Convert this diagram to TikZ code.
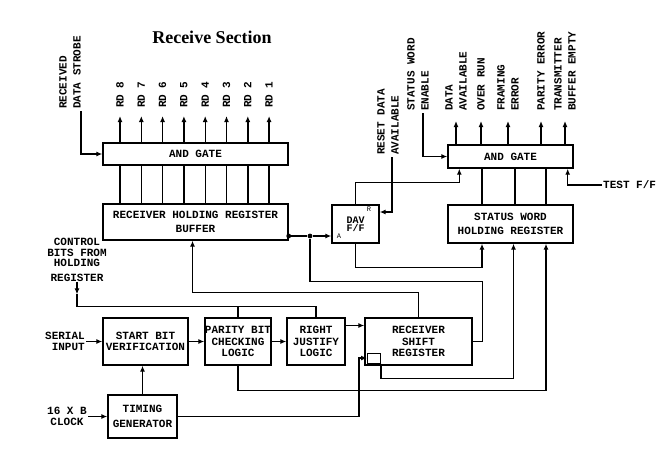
\documentclass[tikz,border=0pt]{standalone}
\usepackage{fontspec}
\setmainfont{Liberation Serif}
\setmonofont{Liberation Mono}
\usetikzlibrary{arrows.meta}

\begin{document}
\begin{tikzpicture}[x=1pt, y=-1pt,
    blk/.style={draw, line width=1.4pt, inner sep=0pt, align=center,
      font=\ttfamily\bfseries\fontsize{11}{11.5}\selectfont},
    vlbl/.style={rotate=90, anchor=west, align=left, inner sep=2pt,
      font=\ttfamily\bfseries\fontsize{11}{14}\selectfont},
    lbl/.style={align=center, inner sep=1pt,
      font=\ttfamily\bfseries\fontsize{11}{10.5}\selectfont},
    pin/.style={inner sep=0pt, font=\ttfamily\fontsize{7}{7}\selectfont},
    wire/.style={line width=1.4pt},
    sig/.style={wire, -{Latex[length=6pt,width=5pt]}},
    dot/.style={circle, fill, inner sep=1.7pt}]
  \useasboundingbox (0,0) rectangle (659,451);

  % Title
  \node[font=\rmfamily\bfseries\fontsize{18}{18}\selectfont] (title) at (212,37) {Receive Section};

  % Upper blocks
  \node[blk, minimum width=185pt, minimum height=22pt] (andL) at (195.5,154) {AND GATE};
  \node[blk, minimum width=185pt, minimum height=36pt] (rhrb) at (195.5,222)
    {RECEIVER HOLDING REGISTER\\[2pt]BUFFER};
  \node[blk, minimum width=47pt, minimum height=38pt,
    font=\ttfamily\bfseries\fontsize{10}{8.5}\selectfont] (dav) at (355.5,224) {DAV\\F/F};
  \node[pin] (davR) at (369,209) {R};
  \node[pin] (davA) at (339,236) {A};
  \node[blk, minimum width=125pt, minimum height=23pt] (andR) at (510.5,156.5) {AND GATE};
  \node[blk, minimum width=125pt, minimum height=38pt] (swhr) at (510.5,224)
    {STATUS WORD\\[3pt]HOLDING REGISTER};

  % Lower blocks
  \node[blk, minimum width=85pt, minimum height=47pt] (sbv) at (145.5,341.5) {START BIT\\VERIFICATION};
  \node[blk, minimum width=66pt, minimum height=47pt] (pbc) at (238,341.5) {PARITY BIT\\CHECKING\\LOGIC};
  \node[blk, minimum width=58pt, minimum height=47pt] (rjl) at (316,341.5) {RIGHT\\JUSTIFY\\LOGIC};
  \node[blk, minimum width=107pt, minimum height=47pt] (rsr) at (418.5,341.5) {RECEIVER\\SHIFT\\REGISTER};
  \node[draw, line width=1pt, minimum width=13pt, minimum height=10pt, inner sep=0pt] (cp) at (374,358) {};
  \node[blk, minimum width=69pt, minimum height=43pt] (tg) at (142.5,416.5) {TIMING\\[3pt]GENERATOR};

  % Signal labels
  \node[vlbl] (strobe) at (70,111) {RECEIVED\\DATA STROBE};
  \foreach \n [count=\i from 0] in {8,7,...,1}
    \node[vlbl] (rd\n) at ({120+21.3*\i},110) {RD \n};
  \node[vlbl] (reset) at (388,157) {RESET DATA\\AVAILABLE};
  \node[vlbl] (swen) at (418,113) {STATUS WORD\\ENABLE};
  \node[vlbl] (dataav) at (456,113) {DATA\\AVAILABLE};
  \node[vlbl] (overrun) at (481,113) {OVER RUN};
  \node[vlbl] (framerr) at (508,113) {FRAMING\\ERROR};
  \node[vlbl] (parerr) at (541,113) {PARITY ERROR};
  \node[vlbl] (txbe) at (565,113) {TRANSMITTER\\BUFFER EMPTY};
  \node[lbl, anchor=west] (testff) at (602,185) {TEST F/F};
  \node[lbl, anchor=north] (ctrl) at (77,237) {CONTROL\\BITS FROM\\HOLDING\\[4pt]REGISTER};
  \node[lbl, anchor=east, align=right] (serial) at (86,341.5) {SERIAL\\INPUT};
  \node[lbl, anchor=east] (clock) at (88,416.5) {16 X B\\CLOCK};

  % Received data path
  \draw[sig] ([xshift=11pt]strobe.west) |- (andL.west);
  \foreach \n in {8,7,...,1} {
    \draw[sig, shorten >=6pt] (rd\n.west |- andL.north) -- (rd\n.west);
    \draw[wire] (rd\n.west |- rhrb.north) -- (rd\n.west |- andL.south);
  }
  \node[dot] (hb) at ([yshift=-14pt]rhrb.east) {};
  \node[dot] (tap) at (310,236) {};
  \draw[wire] (hb) -- (tap);
  \draw[sig] (tap) -- (tap -| dav.west);
  \draw[wire] (rsr.east) -- ++(10,0) -- ++(0,-60) -| (tap);
  \draw[sig] (rsr.north) -- ++(0,-25) -| ([xshift=-3pt]rhrb.south);

  % Status word
  \draw[sig] ([xshift=4pt]reset.west) |- ([yshift=12pt]dav.east);
  \draw[sig] (dav.north) -- ++(0,-22) -| ([xshift=12pt]andR.south west);
  \draw[sig] (dav.south) -- ++(0,24) -| ([xshift=-28.5pt]swhr.south);
  \draw[sig] ([xshift=5pt]swen.west) |- (andR.west);
  \draw[sig] (testff.west) -| ([xshift=-6pt]andR.south east);
  \foreach \o in {dataav,overrun,framerr,parerr,txbe}
    \draw[sig, shorten >=8pt] (\o.west |- andR.north) -- (\o.west);
  \foreach \dx in {-28.5,4.5,35.5}
    \draw[wire] ([xshift=\dx pt]swhr.north) -- ([xshift=\dx pt]andR.south);

  % Serial input chain
  \draw[sig] (serial.east) -- (sbv.west);
  \draw[sig] (sbv.east) -- (pbc.west);
  \draw[sig] (pbc.east) -- (rjl.west);
  \draw[sig] ([yshift=16pt]rjl.east) -- ([yshift=16pt]rsr.west);
  \draw[sig] (clock.east) -- (tg.west);
  \draw[sig] (tg.north) -- (tg.north |- sbv.south);
  \draw[sig] (tg.east) -| ([xshift=-8pt]cp.west) -- (cp.west);

  % Control bits
  \draw[sig] (ctrl.south) -- ++(0,12) coordinate (cb);
  \draw[wire] (cb) |- ([yshift=11pt]rjl.north) -- (rjl.north);
  \draw[wire] (pbc.north) -- ([yshift=11pt]pbc.north);

  % Error flags to status register
  \draw[sig] (pbc.south) -- ++(0,25) -| ([xshift=35.5pt]swhr.south);
  \draw[sig] (cp.south east) -- ++(0,15) -| ([xshift=3pt]swhr.south);
\end{tikzpicture}
\end{document}
